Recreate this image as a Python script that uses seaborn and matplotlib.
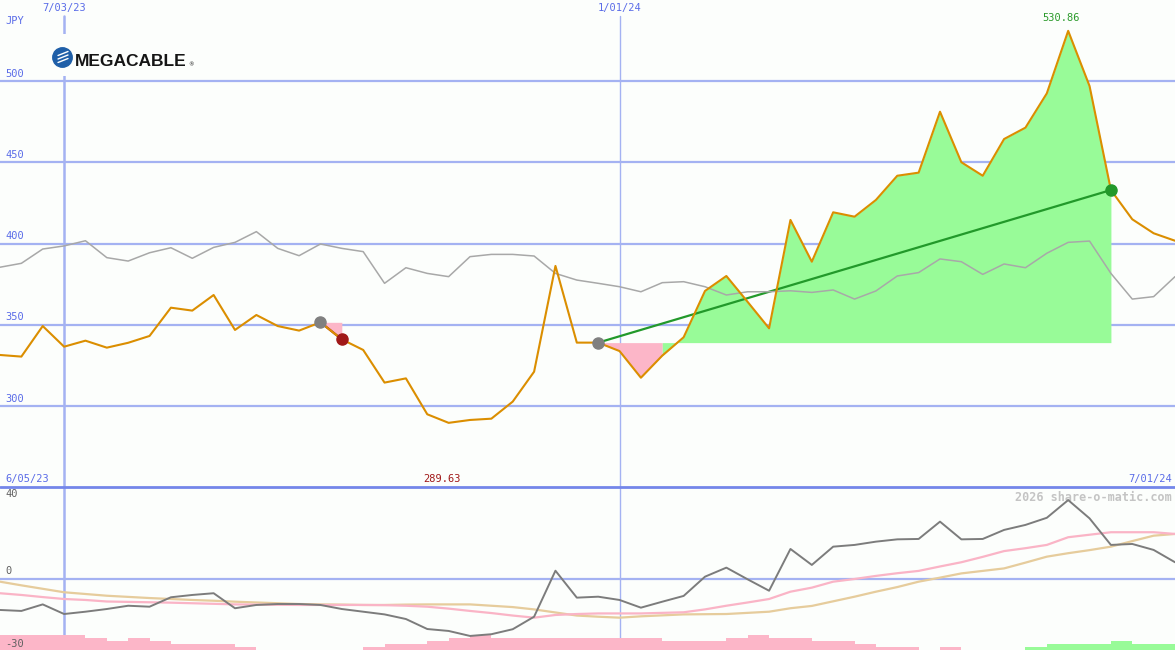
import numpy as np
import pandas as pd
import matplotlib
matplotlib.use('Agg')
import matplotlib.pyplot as plt
import matplotlib.transforms as mtrans
from matplotlib.lines import Line2D
from matplotlib.patches import Rectangle
import seaborn as sns

# weekly points, week 0 = 12 Jun 2023 ... week 55 = 1 Jul 2024
weeks = np.arange(56)
date_ticks = {3: '7/03/23', 29: '1/01/24'}
range_start = '6/05/23'
range_end = '7/01/24'

price = [331.4, 330.4, 349.2, 336.5, 340.2, 335.9, 338.9, 343.1, 360.5, 358.7,
         368.3, 346.8, 356.0, 349.2, 346.4, 351.5, 341.0, 334.5, 314.4, 317.0,
         294.9, 289.63, 291.4, 292.2, 302.7, 321.1, 386.2, 339.0, 339.0, 333.8,
         317.4, 331.0, 342.3, 370.8, 380.0, 364.0, 347.8, 414.5, 388.8, 419.2,
         416.5, 426.8, 441.7, 443.6, 481.1, 450.0, 441.7, 464.3, 471.3, 492.4,
         530.86, 496.9, 432.9, 414.9, 406.3, 401.7]

bench = [385.4, 387.8, 396.6, 398.5, 401.7, 391.3, 389.2, 394.3, 397.4, 390.9,
         397.6, 400.7, 407.3, 397.0, 392.5, 399.7, 397.0, 395.0, 375.5, 385.1,
         381.6, 379.6, 391.9, 393.3, 393.3, 392.3, 381.6, 377.5, 375.5, 373.4,
         370.3, 375.9, 376.5, 373.4, 368.3, 370.3, 370.3, 370.9, 369.9, 371.4,
         365.8, 370.8, 380.0, 382.1, 390.5, 388.8, 381.0, 387.4, 385.1, 394.0,
         400.7, 401.5, 381.6, 365.8, 367.3, 379.6]

osc = [-16.1, -16.6, -13.2, -18.2, -17.0, -15.6, -13.9, -14.4, -9.5, -8.3,
       -7.4, -15.2, -13.5, -13.0, -13.0, -13.5, -15.6, -17.0, -18.4, -20.8,
       -26.0, -27.0, -29.6, -28.7, -26.1, -19.6, 4.3, -9.7, -9.2, -10.9,
       -14.9, -11.8, -8.8, 1.2, 5.9, -0.2, -6.1, 15.6, 7.3, 16.8,
       17.7, 19.4, 20.6, 20.8, 29.8, 20.6, 20.8, 25.5, 28.1, 31.8,
       41.0, 31.5, 17.7, 18.2, 15.1, 8.7]

osc_fast = [-7.4, -8.3, -9.4, -10.4, -10.9, -11.7, -11.9, -12.1, -12.3, -12.6,
            -12.9, -13.2, -13.3, -13.4, -13.5, -13.5, -13.5, -13.5, -13.6, -13.9,
            -14.4, -15.4, -16.6, -17.7, -19.0, -20.1, -18.7, -18.2, -17.9, -17.9,
            -17.9, -17.6, -17.3, -15.8, -13.9, -12.2, -10.4, -6.6, -4.5, -1.4,
            0.0, 1.6, 3.0, 4.2, 6.5, 8.7, 11.5, 14.5, 16.0, 17.7,
            21.7, 23.0, 24.3, 24.3, 24.3, 23.4]

osc_slow = [-1.4, -3.3, -5.1, -6.9, -7.8, -8.7, -9.3, -9.9, -10.4, -10.9,
            -11.3, -11.8, -12.2, -12.6, -13.0, -13.2, -13.3, -13.5, -13.5, -13.3,
            -13.2, -13.2, -13.2, -13.9, -14.6, -15.8, -17.4, -19.0, -19.6, -20.1,
            -19.4, -18.9, -18.4, -18.3, -18.2, -17.6, -17.0, -15.2, -14.0, -11.6,
            -9.2, -6.6, -4.2, -1.4, 0.7, 2.9, 4.2, 5.5, 8.5, 11.6,
            13.4, 15.0, 16.8, 19.7, 22.5, 23.4]

# histogram strength levels (negative = pink, positive = green)
bar_level = [-5, -5, -5, -5, -4, -3, -4, -3, -2, -2,
             -2, -1, 0, 0, 0, 0, 0, -1, -2, -2,
             -3, -4, -5, -4, -4, -4, -4, -4, -4, -4,
             -4, -3, -3, -3, -4, -5, -4, -4, -3, -3,
             -2, -1, -1, 0, -1, 0, 0, 0, 1, 2,
             2, 2, 3, 2, 2, 0]

price_ticks = [300, 350, 400, 450, 500]
osc_ticks = [40, 0, -30]
trades = [(15, 16), (28, 52)]   # (entry week, exit week)

# colours
BG = '#fcfefc'
GRID = '#a4b2f2'
LABEL = '#5a6ce8'
ORANGE = '#db8e00'
GREEN_FILL = '#98fb98'
PINK_FILL = '#fcb6c8'

sns.set_theme(style='white')
plt.rcParams['font.family'] = ['DejaVu Sans Mono', 'DejaVu Sans']

W, H = 1175, 650
fig = plt.figure(figsize=(W / 100, H / 100), dpi=100, facecolor=BG)
split = 163 / H
ax = fig.add_axes([0, split, 1, 1 - split])
ax2 = fig.add_axes([0, 0, 1, split])
for a in (ax, ax2):
    a.set_facecolor(BG)
    a.set_xlim(0, 55)
    for s in a.spines.values():
        s.set_visible(False)
    a.set_xticks([])
    a.set_yticks([])
ax.set_ylim(250.15, 549.85)
ax2.set_ylim(-36.9, 47.8)

# ---- grid
for v in price_ticks:
    ax.axhline(v, color=GRID, lw=1.6, zorder=1)
    ax.text(5 / W, v + 1.5, str(v), transform=mtrans.blended_transform_factory(ax.transAxes, ax.transData),
            color=LABEL, fontsize=7.5, va='bottom', ha='left')
ax2.axhline(0, color=GRID, lw=1.6, zorder=1)
for wk, lab in date_ticks.items():
    lw = 1.8 if wk == 3 else 1.0
    ax.axvline(wk, ymax=1 - 16 / 487, color=GRID, lw=lw, zorder=1)
    ax2.axvline(wk, color=GRID, lw=lw, zorder=1)
    ax.text(wk, 1 - 3 / 487, lab, transform=mtrans.blended_transform_factory(ax.transData, ax.transAxes),
            color=LABEL, fontsize=7.5, ha='center', va='top')
fig.add_artist(Line2D([0, 1], [split, split], transform=fig.transFigure, color='#7486ea', lw=2, zorder=5))

# ---- trades (fills, trend lines, markers)
for entry, exit_ in trades:
    base = price[entry]
    seg = np.arange(entry, exit_ + 1)
    yy = np.array(price)[seg]
    up = np.zeros(len(seg), bool)
    dn = np.zeros(len(seg), bool)
    for k in range(len(seg) - 1):
        if yy[k + 1] >= base:
            up[k:k + 2] = True
        else:
            dn[k:k + 2] = True
    ax.fill_between(seg, yy, base, where=dn, color=PINK_FILL, lw=0, zorder=2)
    ax.fill_between(seg, yy, base, where=up, color=GREEN_FILL, lw=0, zorder=2)
    win = price[exit_] >= base
    sns.lineplot(x=[weeks[entry], weeks[exit_]], y=[base, price[exit_]], ax=ax,
                 color='#22992a' if win else '#a01818', lw=1.6, zorder=3)

sns.lineplot(x=weeks, y=bench, ax=ax, color='#a8a8a8', lw=1.1, zorder=3)
sns.lineplot(x=weeks, y=price, ax=ax, color=ORANGE, lw=1.5, zorder=4)

for entry, exit_ in trades:
    win = price[exit_] >= price[entry]
    ax.plot(weeks[entry], price[entry], 'o', ms=8, color='#808080', zorder=5)
    ax.plot(weeks[exit_], price[exit_], 'o', ms=8, color='#22992a' if win else '#a01818', zorder=5)

# max / min labels
imax = int(np.argmax(price))
imin = int(np.argmin(price))
ax.annotate(f'{price[imax]:.2f}', xy=(weeks[imax], price[imax]), xytext=(-5, 6),
            textcoords='offset points', color='#2a9a2a', fontsize=7.5, ha='center', va='bottom')
ax.text(weeks[imin] - 0.33, 3 / 487, f'{price[imin]:.2f}',
        transform=mtrans.blended_transform_factory(ax.transData, ax.transAxes),
        color='#a01818', fontsize=7.5, ha='center', va='bottom')
ax.text(5 / W, 3 / 487, range_start, transform=ax.transAxes, color=LABEL, fontsize=7.5, va='bottom')
ax.text(1 - 3 / W, 3 / 487, range_end, transform=ax.transAxes, color=LABEL, fontsize=7.5,
        va='bottom', ha='right')
fig.text(5 / W, 1 - 16 / H, 'JPY', color=LABEL, fontsize=7.5, va='top')

# logo
fig.add_artist(Rectangle((50 / W, 1 - 76 / H), 148 / W, 42 / H, transform=fig.transFigure,
                         facecolor=BG, edgecolor='none', zorder=6))
fig.add_artist(Line2D([62 / W], [1 - 57 / H], transform=fig.transFigure, marker='o', ms=14,
                      color='#1f5fa8', zorder=7))
for dy in (-3.5, 0, 3.5):
    fig.add_artist(Line2D([58 / W, 68 / W], [1 - (57 + dy + 2) / H, 1 - (57 + dy - 2) / H],
                          transform=fig.transFigure, color='white', lw=1.0, zorder=8))
fig.text(75 / W, 1 - 66 / H, 'MEGACABLE', family='Liberation Sans', weight='bold', fontsize=12.5,
         color='#151515', zorder=7, va='baseline')
fig.text(188 / W, 1 - 66 / H, '®', family='DejaVu Sans', fontsize=4, color='#151515', zorder=7,
         va='baseline')

# ---- lower panel
uni = 3 / 1.925
bottom = ax2.get_ylim()[0]
cols = [GREEN_FILL if b > 0 else PINK_FILL for b in bar_level]
ax2.bar(weeks, [abs(b) * uni for b in bar_level], bottom=bottom, width=1.0, align='edge',
        color=cols, lw=0, zorder=2)
sns.lineplot(x=weeks, y=osc_slow, ax=ax2, color='#e6cc9c', lw=1.6, zorder=3)
sns.lineplot(x=weeks, y=osc_fast, ax=ax2, color='#fab4c6', lw=1.6, zorder=3)
sns.lineplot(x=weeks, y=osc, ax=ax2, color='#7c7c7c', lw=1.4, zorder=4)
for v in osc_ticks:
    ax2.text(5 / W, v + 1.5 if v >= 0 else v - 1, str(v),
             transform=mtrans.blended_transform_factory(ax2.transAxes, ax2.transData),
             color='#606060', fontsize=7.5, va='bottom' if v >= 0 else 'top')
ax2.text(1 - 3 / W, 1 - 4 / 163, '2026 share-o-matic.com', transform=ax2.transAxes,
         color='#c4c4c4', fontsize=8.5, weight='bold', ha='right', va='top')

for a in (ax, ax2):
    a.set_xlabel('')
    a.set_ylabel('')
    if a.get_legend():
        a.get_legend().remove()

fig.savefig('out.png', dpi=100, facecolor=BG)
